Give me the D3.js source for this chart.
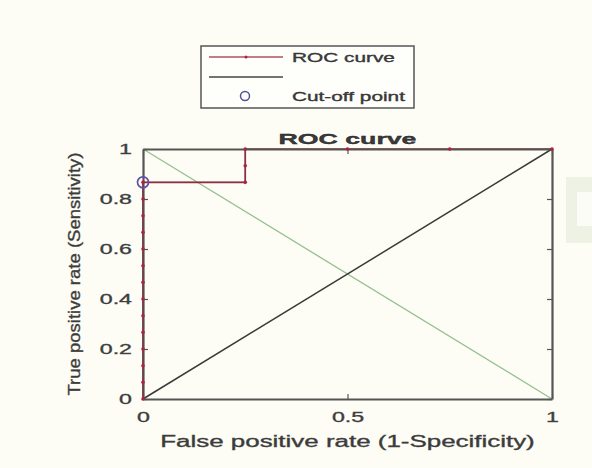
<html>
<head>
<style>
    body { margin: 0; background: #fdfdf5; }
    text { font-family: "Liberation Sans", Arial, sans-serif; fill: #3a3a3a; }
</style>
</head>
<body>
<div id="target"></div>
<script src="https://cdnjs.cloudflare.com/ajax/libs/d3/7.8.5/d3.min.js"></script>
<script>
    // ROC points (fpr, tpr): 15 positives, 4 negatives
    var rocFpr = [0, 0, 0, 0, 0, 0, 0, 0, 0, 0, 0, 0, 0, 0, 0.25, 0.25, 0.25, 0.5, 0.75, 1];
    var rocTpr = [0, 0.0667, 0.1333, 0.2, 0.2667, 0.3333, 0.4, 0.4667, 0.5333, 0.6, 0.6667, 0.7333, 0.8, 0.8667,
                  0.8667, 0.9333, 1, 1, 1, 1];
    var diagFpr = [0, 1], diagTpr = [0, 1];
    var antiFpr = [0, 1], antiTpr = [1, 0];
    var cutoff = [0, 0.8667];
    var yTicks = [0, 0.2, 0.4, 0.6, 0.8, 1];
    var xTicks = [0, 0.5, 1];
    var legendLabels = ['ROC curve', '', 'Cut-off point'];

    var W = 592, H = 468;
    var svg = d3.select('#target').append('svg').attr('width', W).attr('height', H);
    svg.append('rect').attr('width', W).attr('height', H).attr('fill', '#fdfdf5');

    // faint window behind on the right
    svg.append('rect').attr('x', 566).attr('y', 177).attr('width', 30).attr('height', 66)
        .attr('fill', '#eef2e4');
    svg.append('rect').attr('x', 577).attr('y', 192).attr('width', 20).attr('height', 34)
        .attr('fill', '#fbfcf6');

    var x = d3.scaleLinear().domain([0, 1]).range([143, 552]);
    var y = d3.scaleLinear().domain([0, 1]).range([399, 149]);

    // stretch text horizontally like the source image, and thicken it a bit (blurry scan)
    var stretch = function (sel, k) {
        sel.each(function () {
            var w = this.getComputedTextLength();
            d3.select(this).attr('textLength', w * k).attr('lengthAdjust', 'spacingAndGlyphs')
                .attr('stroke', d3.select(this).attr('fill') || '#444').attr('stroke-width', 0.35);
        });
    };

    var line = d3.line().x(function (d) { return x(d[0]); }).y(function (d) { return y(d[1]); });
    var zip = function (a, b) { return a.map(function (v, i) { return [v, b[i]]; }); };

    // green and black diagonals
    svg.append('path').attr('d', line(zip(antiFpr, antiTpr)))
        .attr('stroke', '#94c090').attr('stroke-width', 1.3).attr('fill', 'none');
    svg.append('path').attr('d', line(zip(diagFpr, diagTpr)))
        .attr('stroke', '#3a3a3a').attr('stroke-width', 1.5).attr('fill', 'none');

    // roc curve
    var roc = zip(rocFpr, rocTpr);
    svg.append('path').attr('d', line(roc))
        .attr('stroke', '#8c3040').attr('stroke-width', 1.7).attr('fill', 'none');

    // axes box
    var gx = svg.append('g').attr('transform', 'translate(0,' + y(0) + ')')
        .call(d3.axisBottom(x).tickValues(xTicks).tickFormat(d3.format('')).tickSizeInner(-5).tickSizeOuter(0).tickPadding(10));
    var gy = svg.append('g').attr('transform', 'translate(' + x(0) + ',0)')
        .call(d3.axisLeft(y).tickValues(yTicks).tickFormat(d3.format('')).tickSizeInner(-5).tickSizeOuter(0).tickPadding(11));
    svg.append('g').attr('transform', 'translate(0,' + y(1) + ')')
        .call(d3.axisTop(x).tickValues(xTicks).tickFormat('').tickSizeInner(-5).tickSizeOuter(0));
    svg.append('g').attr('transform', 'translate(' + x(1) + ',0)')
        .call(d3.axisRight(y).tickValues(yTicks).tickFormat('').tickSizeInner(-5).tickSizeOuter(0));
    svg.selectAll('.domain').attr('stroke', '#555').attr('stroke-width', 2.2);
    svg.selectAll('.tick line').attr('stroke', '#555').attr('stroke-width', 1.2);
    svg.selectAll('.tick text').attr('font-size', 14.5).attr('fill', '#4a4a4a')
        .style('font-family', '"Liberation Sans", Arial, sans-serif');
    gx.selectAll('.tick text').attr('dy', '0.9em');
    stretch(gx.selectAll('.tick text'), 1.6);
    stretch(gy.selectAll('.tick text'), 1.6);

    // roc curve drawn again over the top edge, with markers
    svg.append('path').attr('d', line(roc.filter(function (d) { return d[0] <= 0.25; })))
        .attr('stroke', '#8c3040').attr('stroke-width', 1.2).attr('fill', 'none').attr('opacity', 0.7);
    svg.selectAll('circle.pt').data(roc).enter().append('circle')
        .attr('class', 'pt')
        .attr('cx', function (d) { return x(d[0]); })
        .attr('cy', function (d) { return y(d[1]); })
        .attr('r', 1.8).attr('fill', '#b02040');

    // cut-off point
    svg.append('circle').attr('cx', x(cutoff[0])).attr('cy', y(cutoff[1])).attr('r', 5.5)
        .attr('fill', 'none').attr('stroke', '#6050a8').attr('stroke-width', 1.7);

    // title and labels
    var title = svg.append('text').attr('x', x(0.5)).attr('y', 144).attr('text-anchor', 'middle')
        .attr('font-size', 15).attr('font-weight', 'bold').attr('fill', '#222').text('ROC curve');
    stretch(title, 1.78);
    var xl = svg.append('text').attr('x', x(0.5)).attr('y', 447).attr('text-anchor', 'middle')
        .attr('font-size', 16).attr('fill', '#444').text('False positive rate (1-Specificity)');
    stretch(xl, 1.62);
    svg.append('text').attr('transform', 'translate(80,' + y(0.5) + ') rotate(-90)')
        .attr('text-anchor', 'middle').attr('font-size', 16).attr('fill', '#444')
        .attr('stroke', '#444').attr('stroke-width', 0.35)
        .attr('textLength', 243).attr('lengthAdjust', 'spacingAndGlyphs')
        .text('True positive rate (Sensitivity)');

    // legend
    var lg = svg.append('g');
    lg.append('rect').attr('x', 201).attr('y', 46).attr('width', 213).attr('height', 62)
        .attr('fill', '#fefefa').attr('stroke', '#555').attr('stroke-width', 1.5);
    var rowY = [57, 77, 96];
    lg.append('line').attr('x1', 209).attr('x2', 283).attr('y1', rowY[0]).attr('y2', rowY[0])
        .attr('stroke', '#b05060').attr('stroke-width', 1.3);
    lg.append('circle').attr('cx', 246).attr('cy', rowY[0]).attr('r', 1.5).attr('fill', '#b02040');
    lg.append('line').attr('x1', 209).attr('x2', 283).attr('y1', rowY[1]).attr('y2', rowY[1])
        .attr('stroke', '#444').attr('stroke-width', 1.3);
    lg.append('circle').attr('cx', 245).attr('cy', rowY[2]).attr('r', 4.5)
        .attr('fill', 'none').attr('stroke', '#5050a0').attr('stroke-width', 1.5);
    lg.selectAll('text.lab').data(legendLabels).enter().append('text')
        .attr('class', 'lab')
        .attr('x', 292).attr('y', function (d, i) { return rowY[i] + 5; })
        .attr('font-size', 13).attr('fill', '#333')
        .text(function (d) { return d; })
        .call(stretch, 1.6);
</script>
</body>
</html>
